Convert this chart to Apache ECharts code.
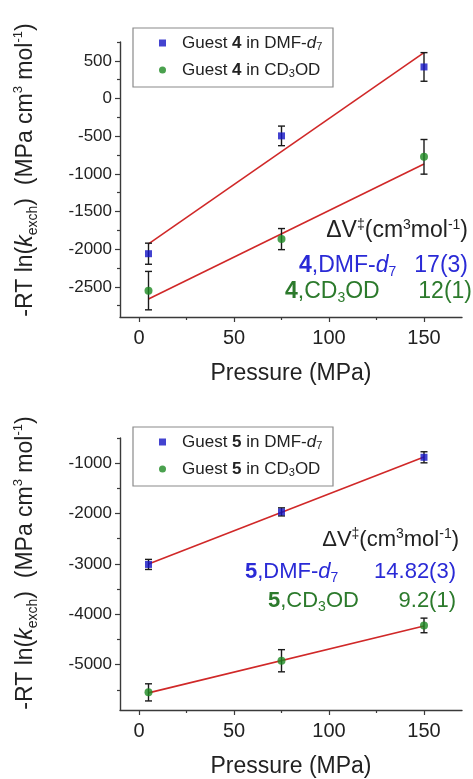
<!DOCTYPE html>
<html>
<head>
<meta charset="utf-8">
<title>Activation volume plots</title>
<script src="https://cdn.jsdelivr.net/npm/echarts@6/dist/echarts.min.js"></script>
<style>
html, body { margin: 0; padding: 0; background: #fff; }
#chart { width: 473px; height: 779px; }
</style>
</head>
<body>
<div id="chart"></div>
<script>
// pressure points (MPa)
const pressure = [5, 75, 150];
const fitX = [5, 150];

// guest 4 (top panel)
const g4Dmf = [-2060, -496, 419];
const g4DmfErr = [140, 130, 190];
const g4Cd3od = [-2550, -1866, -774];
const g4Cd3odErr = [255, 140, 230];
const g4DmfFit = [-1930, 610];
const g4Cd3odFit = [-2660, -870];

// guest 5 (bottom panel)
const g5Dmf = [-3010, -1967, -883];
const g5DmfErr = [100, 80, 110];
const g5Cd3od = [-5550, -4922, -4221];
const g5Cd3odErr = [170, 220, 145];
const g5DmfFit = [-3000, -876];
const g5Cd3odFit = [-5560, -4234];

// ticks
const xTicks = [0, 50, 100, 150];
const xMinor = [25, 75, 125];
const yTicks4 = [-2500, -2000, -1500, -1000, -500, 0, 500];
const yMinor4 = [-2750, -2250, -1750, -1250, -750, -250, 250, 750];
const yTicks5 = [-5000, -4000, -3000, -2000, -1000];
const yMinor5 = [-5500, -4500, -3500, -2500, -1500, -500];

const FONT = '"Liberation Sans", Arial, Helvetica, sans-serif';
const BLUE = '#1414c4';
const GREEN = '#1d8a22';
const BLUE_TXT = '#2a2ad6';
const GREEN_TXT = '#2c7a2c';
const RED = '#d02828';
const AXIS = '#3a3a3a';

const chart = echarts.init(document.getElementById('chart'));

const xAxisPair = (grid) => [
  {
    gridIndex: grid, type: 'value', min: -10, max: 170,
    name: 'Pressure (MPa)', nameLocation: 'middle', nameGap: 45,
    nameTextStyle: { fontSize: 23, color: '#222', fontFamily: FONT },
    axisLine: { onZero: false, lineStyle: { color: AXIS, width: 1.4 } },
    axisTick: { customValues: xTicks, length: 5, lineStyle: { color: AXIS, width: 1.2 } },
    axisLabel: { customValues: xTicks, fontSize: 20, color: '#222', margin: 11, fontFamily: FONT },
    splitLine: { show: false }
  },
  {
    gridIndex: grid, type: 'value', min: -10, max: 170, position: 'bottom',
    axisLine: { show: false, onZero: false },
    axisTick: { customValues: xMinor, length: 3, lineStyle: { color: AXIS, width: 1.2 } },
    axisLabel: { show: false },
    splitLine: { show: false }
  }
];

const yAxisPair = (grid, min, max, major, minor) => [
  {
    gridIndex: grid, type: 'value', min: min, max: max,
    axisLine: { show: true, onZero: false, lineStyle: { color: AXIS, width: 1.4 } },
    axisTick: { show: true, customValues: major, length: 5, lineStyle: { color: AXIS, width: 1.2 } },
    axisLabel: {
      customValues: major, fontSize: 17, color: '#222', margin: 8, fontFamily: FONT,
      formatter: (v) => String(v)
    },
    splitLine: { show: false }
  },
  {
    gridIndex: grid, type: 'value', min: min, max: max, position: 'left',
    axisLine: { show: false, onZero: false },
    axisTick: { show: true, customValues: minor, length: 3, lineStyle: { color: AXIS, width: 1.2 } },
    axisLabel: { show: false },
    splitLine: { show: false }
  }
];

const scatter = (name, xi, yi, ys, symbol, size, color) => ({
  name: name, type: 'scatter', xAxisIndex: xi, yAxisIndex: yi,
  symbol: symbol, symbolSize: size, z: 5,
  itemStyle: { color: color },
  data: pressure.map((p, i) => [p, ys[i]])
});

const fitLine = (xi, yi, ys) => ({
  type: 'line', xAxisIndex: xi, yAxisIndex: yi, z: 3, silent: true,
  symbol: 'none', lineStyle: { color: RED, width: 1.6 },
  data: fitX.map((p, i) => [p, ys[i]])
});

const errorBars = (xi, yi, ys, errs) => ({
  type: 'custom', xAxisIndex: xi, yAxisIndex: yi, z: 4, silent: true,
  encode: { x: 0, y: [1, 2] },
  data: pressure.map((p, i) => [p, ys[i] - errs[i], ys[i] + errs[i]]),
  renderItem: (params, api) => {
    const lo = api.coord([api.value(0), api.value(1)]);
    const hi = api.coord([api.value(0), api.value(2)]);
    const w = 3.5;
    const style = { stroke: '#1a1a1a', lineWidth: 1.4 };
    return {
      type: 'group',
      children: [
        { type: 'line', shape: { x1: lo[0], y1: lo[1], x2: hi[0], y2: hi[1] }, style: style },
        { type: 'line', shape: { x1: lo[0] - w, y1: lo[1], x2: lo[0] + w, y2: lo[1] }, style: style },
        { type: 'line', shape: { x1: hi[0] - w, y1: hi[1], x2: hi[0] + w, y2: hi[1] }, style: style }
      ]
    };
  }
});

const legendText = {
  'Guest 4 in DMF-d7': 'Guest {b|4} in DMF-{i|d}{sub|7}',
  'Guest 4 in CD3OD': 'Guest {b|4} in CD{sub|3}OD',
  'Guest 5 in DMF-d7': 'Guest {b|5} in DMF-{i|d}{sub|7}',
  'Guest 5 in CD3OD': 'Guest {b|5} in CD{sub|3}OD'
};

const legendRich = {
  b: { fontWeight: 'bold', fontSize: 17, lineHeight: 18, fontFamily: FONT, color: '#222' },
  i: { fontStyle: 'italic', fontSize: 17, lineHeight: 18, fontFamily: FONT, color: '#222' },
  sub: { fontSize: 11, lineHeight: 10, verticalAlign: 'bottom', fontFamily: FONT, color: '#222' }
};

const legendFor = (names, top) => ({
  orient: 'vertical', left: 159, top: top,
  padding: 0, itemGap: 9, itemWidth: 7, itemHeight: 7,
  data: [{ name: names[0], icon: 'rect' }, { name: names[1], icon: 'circle' }],
  formatter: (n) => legendText[n],
  textStyle: { fontSize: 17, lineHeight: 18, color: '#222', fontFamily: FONT, padding: [0, 0, 0, 11], rich: legendRich }
});

const titleRich = {
  i: { fontStyle: 'italic', fontSize: 23, lineHeight: 28, fontFamily: FONT, fill: '#222' },
  sub: { fontSize: 14, lineHeight: 14, verticalAlign: 'bottom', fontFamily: FONT, fill: '#222' },
  sup: { fontSize: 13, lineHeight: 13, verticalAlign: 'top', fontFamily: FONT, fill: '#222' }
};

const yTitle = (cy) => ({
  type: 'text', x: 26, y: cy, rotation: Math.PI / 2,
  style: {
    text: '-RT ln({i|k}{sub|exch})  (MPa cm{sup|3} mol{sup|-1})',
    fill: '#222', fontSize: 23, lineHeight: 28, fontFamily: FONT,
    align: 'center', verticalAlign: 'middle', textAlign: 'center', textVerticalAlign: 'middle',
    rich: titleRich
  }
});

const annRich = (color, size) => ({
  b: { fontWeight: 'bold', fontSize: size, lineHeight: 26, fontFamily: FONT, fill: color },
  i: { fontStyle: 'italic', fontSize: size, lineHeight: 26, fontFamily: FONT, fill: color },
  sub: { fontSize: 14, lineHeight: 14, verticalAlign: 'bottom', fontFamily: FONT, fill: color },
  sup: { fontSize: 14, lineHeight: 14, verticalAlign: 'top', fontFamily: FONT, fill: color }
});

const ann = (text, x, y, color, align, size) => ({
  type: 'text', x: x, y: y, z: 10,
  style: {
    text: text, fill: color, fontSize: size, lineHeight: 26, fontFamily: FONT,
    align: align, verticalAlign: 'middle', textAlign: align, textVerticalAlign: 'middle',
    rich: annRich(color, size)
  }
});

const legendBox = (y) => ({
  type: 'rect', shape: { x: 133, y: y, width: 200, height: 59 },
  style: { fill: 'none', stroke: '#8a8a8a', lineWidth: 1.2 }, z: 1
});

chart.setOption({
  animation: false,
  backgroundColor: '#fff',
  grid: [
    { left: 120, top: 42, width: 342, height: 275 },
    { left: 120, top: 438, width: 342, height: 275 }
  ],
  xAxis: [...xAxisPair(0), ...xAxisPair(1)],
  yAxis: [
    ...yAxisPair(0, -2900, 750, yTicks4, yMinor4),
    ...yAxisPair(1, -5900, -500, yTicks5, yMinor5)
  ],
  legend: [
    legendFor(['Guest 4 in DMF-d7', 'Guest 4 in CD3OD'], 34),
    legendFor(['Guest 5 in DMF-d7', 'Guest 5 in CD3OD'], 433)
  ],
  graphic: [
    legendBox(28),
    legendBox(427),
    yTitle(170),
    yTitle(563),
    ann('ΔV{sup|‡}(cm{sup|3}mol{sup|-1})', 468, 231, '#222', 'right', 23),
    ann('{b|4},DMF-{i|d}{sub|7}', 299, 266, BLUE_TXT, 'left', 23),
    ann('17(3)', 468, 266, BLUE_TXT, 'right', 23),
    ann('{b|4},CD{sub|3}OD', 285, 292, GREEN_TXT, 'left', 23),
    ann('12(1)', 472, 292, GREEN_TXT, 'right', 23),
    ann('ΔV{sup|‡}(cm{sup|3}mol{sup|-1})', 459, 540, '#222', 'right', 22),
    ann('{b|5},DMF-{i|d}{sub|7}', 245, 572, BLUE_TXT, 'left', 22),
    ann('14.82(3)', 456, 572, BLUE_TXT, 'right', 22),
    ann('{b|5},CD{sub|3}OD', 268, 601, GREEN_TXT, 'left', 22),
    ann('9.2(1)', 456, 601, GREEN_TXT, 'right', 22)
  ],
  series: [
    fitLine(0, 0, g4DmfFit),
    fitLine(0, 0, g4Cd3odFit),
    errorBars(0, 0, g4Dmf, g4DmfErr),
    errorBars(0, 0, g4Cd3od, g4Cd3odErr),
    scatter('Guest 4 in DMF-d7', 0, 0, g4Dmf, 'rect', 7, BLUE),
    scatter('Guest 4 in CD3OD', 0, 0, g4Cd3od, 'circle', 8, GREEN),
    fitLine(2, 2, g5DmfFit),
    fitLine(2, 2, g5Cd3odFit),
    errorBars(2, 2, g5Dmf, g5DmfErr),
    errorBars(2, 2, g5Cd3od, g5Cd3odErr),
    scatter('Guest 5 in DMF-d7', 2, 2, g5Dmf, 'rect', 7, BLUE),
    scatter('Guest 5 in CD3OD', 2, 2, g5Cd3od, 'circle', 8, GREEN)
  ]
});

window.addEventListener('resize', () => chart.resize());
</script>
</body>
</html>
